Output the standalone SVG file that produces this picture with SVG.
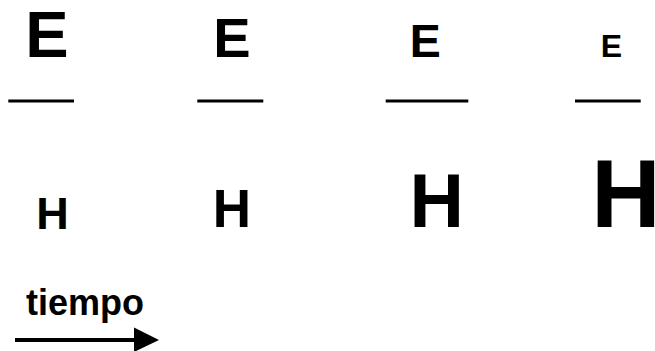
<svg xmlns="http://www.w3.org/2000/svg" width="655" height="351" viewBox="0 0 655 351">
<style>
text{font-family:"Liberation Sans",Arial,sans-serif;font-weight:bold;fill:#000;text-anchor:middle}
.bar{fill:#000}
</style>
<rect width="655" height="351" fill="#fff"/>
<g id="col1">
<text x="47" y="56.7" font-size="65">E</text>
<rect class="bar" x="8.3" y="99.5" width="65.7" height="3"/>
<text x="52.5" y="229" font-size="45">H</text>
</g>
<g id="col2">
<text x="232" y="56.7" font-size="56">E</text>
<rect class="bar" x="197.3" y="99.5" width="66" height="3"/>
<text x="232" y="227.3" font-size="53">H</text>
</g>
<g id="col3">
<text x="425.3" y="56.7" font-size="46.5">E</text>
<rect class="bar" x="385.7" y="99.5" width="82.6" height="3"/>
<text x="436.7" y="227.3" font-size="75.4">H</text>
</g>
<g id="col4">
<text x="611.3" y="56.7" font-size="32">E</text>
<rect class="bar" x="575" y="99.5" width="65.7" height="3"/>
<text x="626" y="227.3" font-size="96">H</text>
</g>
<g id="time">
<text x="26" y="315" font-size="36" style="text-anchor:start">tiempo</text>
</g>
<g id="connectors">
<line x1="15" y1="340" x2="136" y2="340" stroke="#000" stroke-width="4"/>
<polygon points="134,327.5 159,340 134,352" fill="#000"/>
</g>
</svg>
